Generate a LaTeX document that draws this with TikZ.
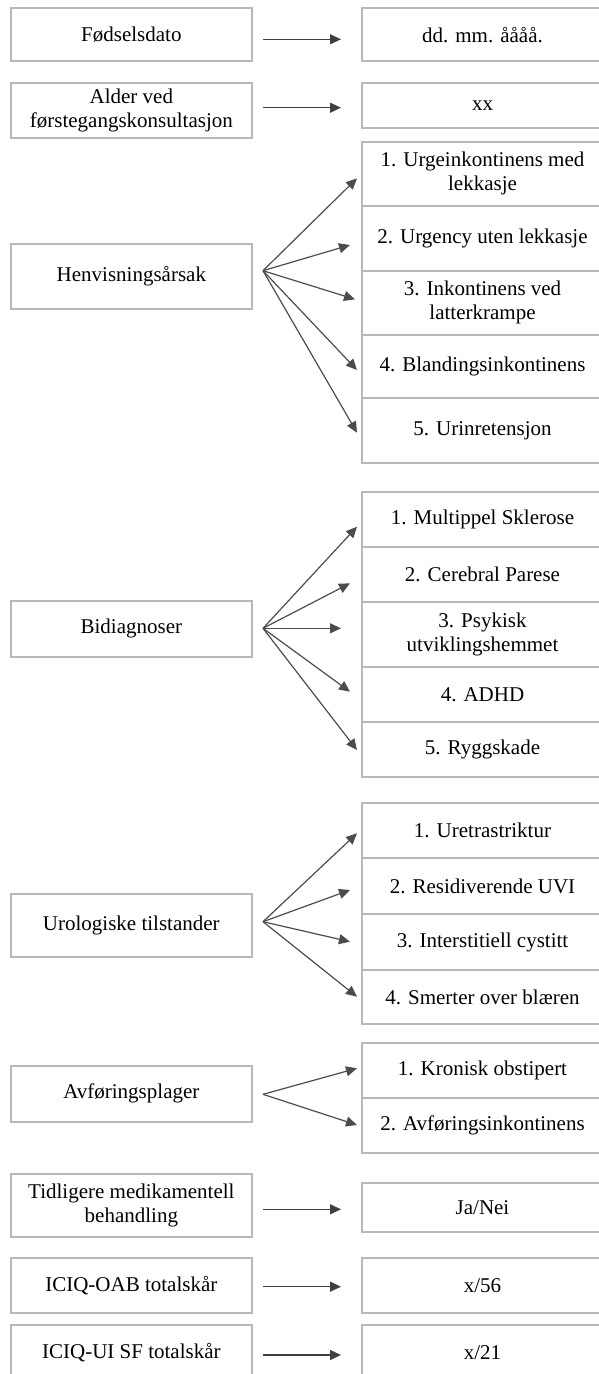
\documentclass[tikz,border=0pt]{standalone}
\usepackage{fontspec}
\setmainfont{Liberation Serif}
\usetikzlibrary{arrows.meta}
\tikzset{
  bx/.style={draw=black!28, line width=2.2pt, rectangle, inner sep=2pt, align=center,
    font=\fontsize{21}{24}\selectfont, minimum width=241pt},
  fan/.style={draw=black!70, line width=1.2pt, -{Triangle[length=11pt,width=10pt]}},
  straight/.style={draw=black!75, line width=1.3pt, -{Triangle[length=11pt,width=10pt]}}
}
\begin{document}
\begin{tikzpicture}[x=1pt,y=-1pt]
\useasboundingbox (0,0) rectangle (599,1374);
% left boxes
\node[bx, minimum height=52.7pt] (fod) at (131.35,34.65) {Fødselsdato};
\node[bx, minimum height=55pt] (alder) at (131.35,110.2) {Alder ved\\førstegangskonsultasjon};
\node[bx, minimum height=64.7pt] (henv) at (131.35,276.65) {Henvisningsårsak};
\node[bx, minimum height=55.7pt] (bidi) at (131.35,628.85) {Bidiagnoser};
\node[bx, minimum height=62.4pt] (uro) at (131.35,925.5) {Urologiske tilstander};
\node[bx, minimum height=55.7pt] (avf) at (131.35,1093.85) {Avføringsplager};
\node[bx, minimum height=63.3pt] (tidl) at (131.35,1205.65) {Tidligere medikamentell\\behandling};
\node[bx, minimum height=55pt] (oab) at (131.35,1285.2) {ICIQ-OAB totalskår};
\node[bx, minimum height=56pt] (ui) at (131.35,1353) {ICIQ-UI SF totalskår};
% right boxes
\node[bx, minimum height=52.7pt] (rfod) at (482.5,34.65) {dd. mm. åååå.};
\node[bx, minimum height=45pt] (ralder) at (482.5,105.2) {xx};
\node[bx, minimum height=64.3pt] (h1) at (482.5,173.85) {1. Urgeinkontinens med\\lekkasje};
\node[bx, minimum height=64.7pt] (h2) at (482.5,238.35) {2. Urgency uten lekkasje};
\node[bx, minimum height=64.3pt] (h3) at (482.5,302.85) {3. Inkontinens ved\\latterkrampe};
\node[bx, minimum height=63.3pt] (h4) at (482.5,366.65) {4. Blandingsinkontinens};
\node[bx, minimum height=65pt] (h5) at (482.5,430.8) {5. Urinretensjon};
\node[bx, minimum height=55.6pt] (b1) at (482.5,519.5) {1. Multippel Sklerose};
\node[bx, minimum height=55pt] (b2) at (482.5,574.8) {2. Cerebral Parese};
\node[bx, minimum height=64.4pt] (b3) at (482.5,634.5) {3. Psykisk\\utviklingshemmet};
\node[bx, minimum height=55.6pt] (b4) at (482.5,694.5) {4. ADHD};
\node[bx, minimum height=55pt] (b5) at (482.5,749.8) {5. Ryggskade};
\node[bx, minimum height=55pt] (u1) at (482.5,830.8) {1. Uretrastriktur};
\node[bx, minimum height=55.7pt] (u2) at (482.5,886.15) {2. Residiverende UVI};
\node[bx, minimum height=56pt] (u3) at (482.5,942) {3. Interstitiell cystitt};
\node[bx, minimum height=54.3pt] (u4) at (482.5,997.15) {4. Smerter over blæren};
\node[bx, minimum height=55pt] (a1) at (482.5,1070.8) {1. Kronisk obstipert};
\node[bx, minimum height=54.4pt] (a2) at (482.5,1125.5) {2. Avføringsinkontinens};
\node[bx, minimum height=49pt] (rtidl) at (482.5,1207.2) {Ja/Nei};
\node[bx, minimum height=55pt] (roab) at (482.5,1285.2) {x/56};
\node[bx, minimum height=56pt] (rui) at (482.5,1353) {x/21};
% connector end points
\coordinate (sfod) at (263,39.3);   \coordinate (efod) at (341,39.3);
\coordinate (salder) at (263,107.7); \coordinate (ealder) at (341,107.7);
\coordinate (stidl) at (263,1209.3); \coordinate (etidl) at (341,1209.3);
\coordinate (soab) at (263,1286.7); \coordinate (eoab) at (341,1286.7);
\coordinate (sui) at (263,1355); \coordinate (eui) at (341,1355);
\coordinate (oh) at (263,270.7);
\coordinate (th1) at (357,178.3); \coordinate (th2) at (350,245); \coordinate (th3) at (355,299.3);
\coordinate (th4) at (357,370); \coordinate (th5) at (357,432.7);
\coordinate (ob) at (263,628.3);
\coordinate (tb1) at (357,526.7); \coordinate (tb2) at (350,583.3); \coordinate (tb3) at (341,628.3);
\coordinate (tb4) at (350,691.7); \coordinate (tb5) at (357,750);
\coordinate (ou) at (263,921.7);
\coordinate (tu1) at (357,833.3); \coordinate (tu2) at (350,890); \coordinate (tu3) at (350,941.7);
\coordinate (tu4) at (357,996.7);
\coordinate (oa) at (263,1094.3);
\coordinate (ta1) at (357,1068.3); \coordinate (ta2) at (357,1125);
% straight arrows
\foreach \n in {fod,alder,tidl,oab,ui} \draw[straight] (s\n) -- (e\n);
% fans
\foreach \i in {1,...,5} \draw[fan] (oh) -- (th\i);
\foreach \i in {1,...,5} \draw[fan] (ob) -- (tb\i);
\foreach \i in {1,...,4} \draw[fan] (ou) -- (tu\i);
\foreach \i in {1,2} \draw[fan] (oa) -- (ta\i);
\end{tikzpicture}
\end{document}
